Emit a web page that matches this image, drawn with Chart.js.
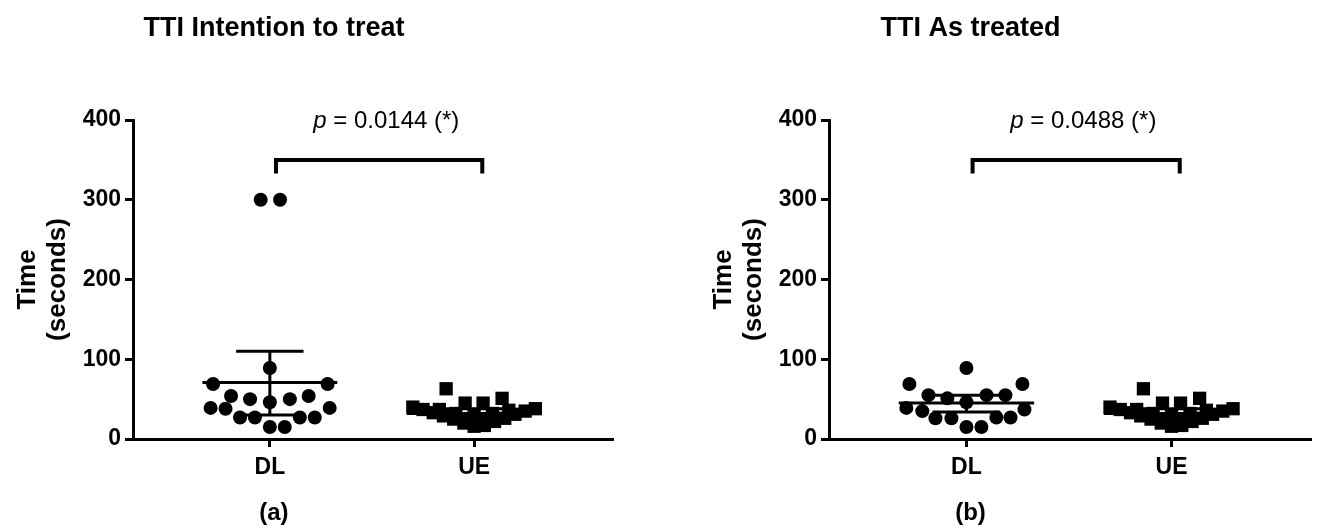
<!DOCTYPE html>
<html>
<head>
<meta charset="utf-8">
<script src="https://cdn.jsdelivr.net/npm/chart.js@4.4.1/dist/chart.umd.min.js"></script>
<style>
  body { margin: 0; background: #fff; width: 1326px; height: 532px; overflow: hidden; position: relative; }
  .panel { position: absolute; top: 0; width: 630px; height: 532px; }
</style>
</head>
<body>
<div class="panel" style="left:0"><canvas id="chartA" width="630" height="532"></canvas></div>
<div class="panel" style="left:696px"><canvas id="chartB" width="630" height="532"></canvas></div>
<script>
const groups = ['DL', 'UE'];
const yTicks = [0, 100, 200, 300, 400];

// intention to treat, DL group: horizontal spread (in group units) and time in seconds
const dlIttJitter = [-0.045, 0.05, 0, -0.278, 0.283, -0.19, 0.19, -0.097, 0.098, 0, -0.29, -0.217, 0.293, -0.146, -0.073, 0.147, 0.22, 0, 0.073];
const dlIttTime   = [300, 300, 89, 69, 69, 54, 54, 50, 50, 46, 39, 38, 39, 27, 27, 27, 27, 15, 15];

// as treated, DL group
const dlAtJitter = [0, -0.278, 0.273, -0.185, 0.098, 0.19, -0.093, 0, -0.293, 0.283, -0.215, -0.151, -0.073, 0.146, 0.215, 0, 0.073];
const dlAtTime   = [89, 69, 69, 55, 55, 55, 51, 46, 39, 37, 35, 26, 26, 27, 27, 15, 15];

// UE group (same in both panels)
const ueJitter = [-0.137, 0.137, -0.044, 0.044, -0.30, -0.25, -0.20, -0.15, -0.10, -0.05, 0, 0.05, 0.10, 0.15, 0.20, 0.25, 0.30, -0.17, -0.09, 0, 0.09, 0.17, -0.04, 0.04];
const ueTime   = [63, 51, 45, 45, 40, 37, 33, 29, 25, 20, 16, 17, 22, 26, 31, 35, 38, 37, 32, 30, 32, 36, 24, 24];

// mean and 95% CI per group
const ittMean = [71, 32], ittLow = [30, 27], ittHigh = [110, 38];
const atMean  = [45, 32], atLow  = [34, 27], atHigh  = [55, 38];

const FONT = '"Liberation Sans", Arial, sans-serif';

const extras = {
  id: 'extras',
  afterDraw(chart, args, o) {
    const ctx = chart.ctx;
    const x = chart.scales.x, y = chart.scales.y;
    ctx.save();
    ctx.strokeStyle = '#000';
    ctx.fillStyle = '#000';
    ctx.lineWidth = 3;
    function seg(x1, y1, x2, y2) {
      ctx.beginPath(); ctx.moveTo(x1, y1); ctx.lineTo(x2, y2); ctx.stroke();
    }
    // mean line + CI whiskers
    groups.forEach((g, i) => {
      const cx = x.getPixelForValue(i + 1);
      const hw = x.getPixelForValue(i + 1.33) - cx;
      const cw = x.getPixelForValue(i + 1.165) - cx;
      const ym = y.getPixelForValue(o.mean[i]);
      const yl = y.getPixelForValue(o.low[i]);
      const yh = y.getPixelForValue(o.high[i]);
      seg(cx - hw, ym, cx + hw, ym);
      seg(cx, yl, cx, yh);
      seg(cx - cw, yl, cx + cw, yl);
      seg(cx - cw, yh, cx + cw, yh);
    });
    // significance bracket
    ctx.lineWidth = 4;
    const bx1 = x.getPixelForValue(o.bracket[0]), bx2 = x.getPixelForValue(o.bracket[1]);
    const by = y.getPixelForValue(350), bl = y.getPixelForValue(333);
    ctx.beginPath();
    ctx.moveTo(bx1, bl); ctx.lineTo(bx1, by); ctx.lineTo(bx2, by); ctx.lineTo(bx2, bl);
    ctx.stroke();
    // p value text: italic p, rest regular
    ctx.textBaseline = 'middle';
    ctx.textAlign = 'left';
    const rest = ' = ' + o.p + ' (*)';
    ctx.font = 'italic 24px ' + FONT;
    const wp = ctx.measureText('p').width;
    ctx.font = '24px ' + FONT;
    const wr = ctx.measureText(rest).width;
    const px = x.getPixelForValue(o.pAt) - (wp + wr) / 2;
    const py = y.getPixelForValue(400) + 1;
    ctx.font = 'italic 24px ' + FONT;
    ctx.fillText('p', px, py);
    ctx.font = '24px ' + FONT;
    ctx.fillText(rest, px + wp, py);
    // panel title and letter
    ctx.textAlign = 'center';
    ctx.font = 'bold 27px ' + FONT;
    ctx.fillText(o.title, x.getPixelForValue(1.02), 29);
    ctx.font = 'bold 24px ' + FONT;
    ctx.fillText(o.letter, x.getPixelForValue(1.02), 513);
    ctx.restore();
  }
};

function makeChart(id, dlJitter, dlTime, o, padRight) {
  return new Chart(document.getElementById(id), {
    type: 'scatter',
    data: {
      datasets: [
        {
          data: dlJitter.map((d, i) => ({ x: 1 + d, y: dlTime[i] })),
          pointStyle: 'circle', pointRadius: 7, pointHoverRadius: 7,
          backgroundColor: '#000', borderWidth: 0
        },
        {
          data: ueJitter.map((d, i) => ({ x: 2 + d, y: ueTime[i] })),
          pointStyle: 'rect', pointRadius: 9.4, pointHoverRadius: 9.4,
          backgroundColor: '#000', borderWidth: 0
        }
      ]
    },
    options: {
      responsive: false,
      animation: false,
      devicePixelRatio: 1,
      layout: { padding: { left: 10, right: padRight, top: 120, bottom: 43 } },
      plugins: { legend: { display: false }, tooltip: { enabled: false }, extras: o },
      scales: {
        x: {
          type: 'linear', min: 0.33, max: 2.68,
          afterBuildTicks: s => { s.ticks = groups.map((g, i) => ({ value: i + 1 })); },
          afterFit: s => { s.height = 50; },
          ticks: { callback: v => groups[v - 1], color: '#000', padding: 7, font: { family: FONT, size: 23, weight: 'bold' } },
          grid: { display: true, drawOnChartArea: false, tickLength: 8, tickWidth: 3, tickColor: '#000' },
          border: { display: true, color: '#000', width: 3 }
        },
        y: {
          min: 0, max: 400,
          afterBuildTicks: s => { s.ticks = yTicks.map(v => ({ value: v })); },
          afterFit: s => { s.width = 123; },
          ticks: { color: '#000', padding: 4, font: { family: FONT, size: 23, weight: 'bold' } },
          grid: { display: true, drawOnChartArea: false, tickLength: 8, tickWidth: 3, tickColor: '#000' },
          border: { display: true, color: '#000', width: 3 },
          title: { display: true, text: ['Time', '(seconds)'], color: '#000', padding: { top: 2, bottom: 0 },
                   font: { family: FONT, size: 26, weight: 'bold', lineHeight: 1.18 } }
        }
      }
    },
    plugins: [extras]
  });
}

makeChart('chartA', dlIttJitter, dlIttTime,
  { mean: ittMean, low: ittLow, high: ittHigh, bracket: [1.03, 2.04], pAt: 1.57, p: '0.0144',
    title: 'TTI Intention to treat', letter: '(a)' }, 17);
makeChart('chartB', dlAtJitter, dlAtTime,
  { mean: atMean, low: atLow, high: atHigh, bracket: [1.03, 2.04], pAt: 1.57, p: '0.0488',
    title: 'TTI As treated', letter: '(b)' }, 15);
</script>
</body>
</html>
